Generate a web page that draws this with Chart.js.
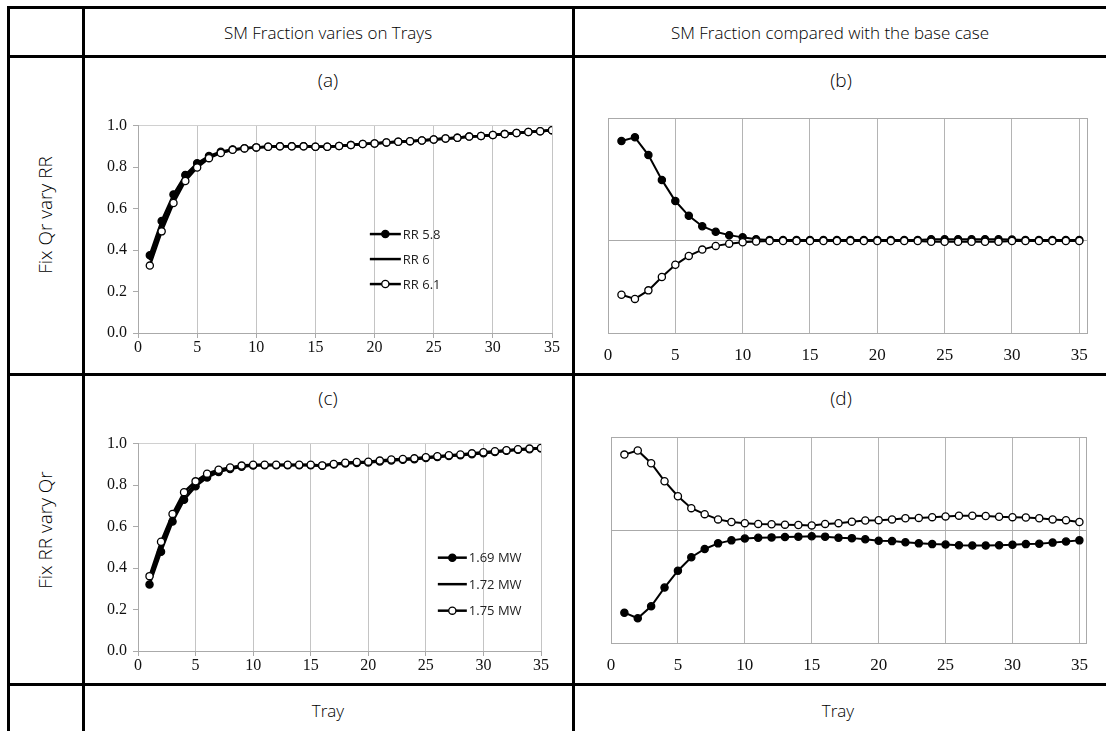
<!DOCTYPE html>
<html lang="en">
<head>
    <meta charset="UTF-8">
    <title>SM Fraction on Trays</title>
    <script src="https://cdn.jsdelivr.net/npm/chart.js"></script>
    <style>
        body {
            margin: 0;
            width: 1106px;
            height: 731px;
            background: #fff;
            position: relative;
            overflow: hidden;
            font-family: "Open Sans", "Noto Sans", sans-serif;
            font-weight: 300;
            color: #000;
        }
        .hline, .vline {
            position: absolute;
            background: #000;
        }
        .hline { height: 3px; left: 7px; right: 0; }
        .vline { width: 3px; top: 6px; bottom: 0; }
        .lbl {
            position: absolute;
            transform: translate(-50%, -50%);
            white-space: nowrap;
            font-size: 17px;
        }
        .rot {
            transform: translate(-50%, -50%) rotate(-90deg);
            font-size: 19px;
        }
        canvas {
            position: absolute;
        }
    </style>
</head>
<body>
    <!-- table rules -->
    <div class="hline" style="top: 6px;"></div>
    <div class="hline" style="top: 55px;"></div>
    <div class="hline" style="top: 373px;"></div>
    <div class="hline" style="top: 683px;"></div>
    <div class="vline" style="left: 7px;"></div>
    <div class="vline" style="left: 82px;"></div>
    <div class="vline" style="left: 572px;"></div>

    <div class="lbl" style="left: 328px; top: 32px;">SM Fraction varies on Trays</div>
    <div class="lbl" style="left: 830px; top: 32px;">SM Fraction compared with the base case</div>
    <div class="lbl" style="left: 328px; top: 80px; font-size: 19px;">(a)</div>
    <div class="lbl" style="left: 841px; top: 80px; font-size: 19px;">(b)</div>
    <div class="lbl" style="left: 328px; top: 398px; font-size: 19px;">(c)</div>
    <div class="lbl" style="left: 841px; top: 398px; font-size: 19px;">(d)</div>
    <div class="lbl" style="left: 328px; top: 710px;">Tray</div>
    <div class="lbl" style="left: 838px; top: 710px;">Tray</div>
    <div class="lbl rot" style="left: 45px; top: 215px;">Fix Qr vary RR</div>
    <div class="lbl rot" style="left: 45px; top: 530px;">Fix RR vary Qr</div>

    <canvas id="chartA" width="480" height="250" style="left: 90px; top: 110px;"></canvas>
    <canvas id="chartB" width="525" height="265" style="left: 575px; top: 105px;"></canvas>
    <canvas id="chartC" width="470" height="250" style="left: 90px; top: 428px;"></canvas>
    <canvas id="chartD" width="525" height="260" style="left: 575px; top: 420px;"></canvas>

    <script>
        const trays = [1, 2, 3, 4, 5, 6, 7, 8, 9, 10, 11, 12, 13, 14, 15, 16, 17, 18, 19, 20,
            21, 22, 23, 24, 25, 26, 27, 28, 29, 30, 31, 32, 33, 34, 35];
        const xTicks = [0, 5, 10, 15, 20, 25, 30, 35];
        const yTicks = [0, 0.2, 0.4, 0.6, 0.8, 1.0];

        // SM fraction per tray, reflux ratio cases
        const rr58 = [0.375, 0.540, 0.668, 0.762, 0.818, 0.853, 0.874, 0.885, 0.891, 0.895, 0.898, 0.900,
            0.900, 0.900, 0.898, 0.898, 0.902, 0.906, 0.911, 0.914, 0.919, 0.922, 0.925, 0.928, 0.933,
            0.938, 0.941, 0.947, 0.950, 0.955, 0.959, 0.964, 0.969, 0.973, 0.978];
        const rr60 = [0.350, 0.515, 0.647, 0.748, 0.808, 0.848, 0.871, 0.884, 0.891, 0.895, 0.898, 0.900,
            0.900, 0.900, 0.898, 0.898, 0.902, 0.906, 0.911, 0.914, 0.919, 0.922, 0.925, 0.928, 0.933,
            0.938, 0.941, 0.947, 0.950, 0.955, 0.959, 0.964, 0.969, 0.973, 0.978];
        const rr61 = [0.325, 0.490, 0.627, 0.733, 0.798, 0.843, 0.868, 0.883, 0.890, 0.895, 0.898, 0.900,
            0.900, 0.900, 0.898, 0.898, 0.902, 0.906, 0.911, 0.914, 0.919, 0.922, 0.925, 0.928, 0.933,
            0.938, 0.941, 0.947, 0.950, 0.955, 0.959, 0.964, 0.969, 0.973, 0.978];

        // difference from the RR 6 base case
        const dRr58 = [0.0268, 0.0278, 0.0230, 0.0163, 0.0106, 0.0066, 0.0038, 0.0023, 0.0014, 0.0008,
            0.0003, 0.0001, 0.0001, 0.0001, 0.0001, 0.0001, 0.0001, 0.0001, 0.0001, 0.0001, 0.0001, 0.0001,
            0.0001, 0.0003, 0.0003, 0.0003, 0.0003, 0.0003, 0.0003, 0.0002, 0.0001, 0.0001, 0.0001, 0.0001, 0.0001];
        const dRr61 = [-0.0147, -0.0158, -0.0135, -0.0099, -0.0066, -0.0042, -0.0025, -0.0015, -0.0009, -0.0005,
            -0.0003, -0.0002, -0.0002, -0.0002, -0.0002, -0.0002, -0.0002, -0.0002, -0.0002, -0.0002, -0.0002, -0.0002,
            -0.0002, -0.0004, -0.0004, -0.0004, -0.0004, -0.0004, -0.0004, -0.0002, -0.0002, -0.0002, -0.0002, -0.0002, -0.0002];

        // SM fraction per tray, reboiler duty cases
        const qr169 = [0.321, 0.479, 0.624, 0.729, 0.794, 0.837, 0.863, 0.878, 0.888, 0.894, 0.896, 0.896,
            0.896, 0.896, 0.896, 0.893, 0.899, 0.904, 0.907, 0.909, 0.914, 0.919, 0.922, 0.925, 0.930,
            0.935, 0.940, 0.944, 0.949, 0.954, 0.959, 0.965, 0.970, 0.973, 0.977];
        const qr172 = [0.342, 0.503, 0.643, 0.748, 0.806, 0.846, 0.869, 0.882, 0.891, 0.896, 0.897, 0.897,
            0.897, 0.897, 0.897, 0.894, 0.900, 0.906, 0.909, 0.911, 0.916, 0.921, 0.924, 0.927, 0.932,
            0.937, 0.942, 0.946, 0.951, 0.956, 0.961, 0.966, 0.971, 0.974, 0.978];
        const qr175 = [0.361, 0.527, 0.661, 0.766, 0.818, 0.855, 0.874, 0.885, 0.894, 0.898, 0.898, 0.898,
            0.898, 0.898, 0.898, 0.895, 0.902, 0.908, 0.911, 0.913, 0.918, 0.923, 0.926, 0.929, 0.934,
            0.939, 0.944, 0.948, 0.953, 0.958, 0.963, 0.968, 0.973, 0.976, 0.979];

        // difference from the 1.72 MW base case
        const dQr169 = [-0.0219, -0.0234, -0.0202, -0.0152, -0.0107, -0.0071, -0.0049, -0.0034, -0.0026, -0.0021,
            -0.0019, -0.0018, -0.0017, -0.0016, -0.0015, -0.0016, -0.0019, -0.0020, -0.0023, -0.0027, -0.0028,
            -0.0031, -0.0034, -0.0036, -0.0037, -0.0039, -0.0040, -0.0040, -0.0039, -0.0038, -0.0036, -0.0035,
            -0.0032, -0.0029, -0.0026];
        const dQr175 = [0.0203, 0.0214, 0.0180, 0.0132, 0.0092, 0.0060, 0.0044, 0.0030, 0.0023, 0.0020,
            0.0018, 0.0017, 0.0016, 0.0015, 0.0014, 0.0018, 0.0020, 0.0024, 0.0027, 0.0028, 0.0030,
            0.0033, 0.0034, 0.0036, 0.0038, 0.0040, 0.0040, 0.0039, 0.0037, 0.0036, 0.0035, 0.0033,
            0.0030, 0.0028, 0.0023];

        const serif = 'Liberation Serif, DejaVu Serif, serif';
        const tickFont = { family: serif, size: 16 };

        function points(values) {
            return trays.map((t, i) => ({ x: t, y: values[i] }));
        }

        // open markers sit on top, the plain line in the middle, filled markers underneath
        function series(label, values, kind, width) {
            return {
                label: label,
                data: points(values),
                order: kind === 'open' ? 0 : (kind === 'line' ? 1 : 2),
                borderColor: '#000',
                borderWidth: width,
                pointRadius: kind === 'line' ? 0 : 3.6,
                pointBorderWidth: 1.3,
                pointBorderColor: '#000',
                pointBackgroundColor: kind === 'open' ? '#fff' : '#000',
                tension: 0
            };
        }

        // box around the plot area
        const framePlugin = {
            id: 'frame',
            beforeDatasetsDraw(chart, args, opts) {
                if (!opts.color) return;
                const a = chart.chartArea;
                const c = chart.ctx;
                c.save();
                c.strokeStyle = opts.color;
                c.lineWidth = 1;
                c.strokeRect(Math.round(a.left) + 0.5, Math.round(a.top) + 0.5,
                    Math.round(a.right - a.left), Math.round(a.bottom - a.top));
                c.restore();
            }
        };

        // legend drawn inside the plot
        const innerLegend = {
            id: 'innerLegend',
            afterDatasetsDraw(chart, args, opts) {
                if (!opts.x) return;
                const a = chart.chartArea;
                const c = chart.ctx;
                const x0 = a.left + (a.right - a.left) * opts.x;
                let y = a.top + (a.bottom - a.top) * opts.y;
                c.save();
                c.font = opts.font;
                c.textBaseline = 'middle';
                chart.data.datasets.forEach(ds => {
                    c.strokeStyle = '#000';
                    c.lineWidth = ds.borderWidth;
                    c.beginPath();
                    c.moveTo(x0, y);
                    c.lineTo(x0 + opts.len, y);
                    c.stroke();
                    if (ds.pointRadius > 0) {
                        c.beginPath();
                        c.arc(x0 + opts.len / 2, y, ds.pointRadius, 0, Math.PI * 2);
                        c.fillStyle = ds.pointBackgroundColor;
                        c.fill();
                        c.lineWidth = ds.pointBorderWidth;
                        c.stroke();
                    }
                    c.fillStyle = '#222';
                    c.fillText(ds.label, x0 + opts.len + 2, y + 1);
                    y += opts.gap;
                });
                c.restore();
            }
        };

        function fractionChart(id, datasets, pad, legend) {
            return new Chart(document.getElementById(id), {
                type: 'line',
                data: { datasets: datasets },
                plugins: [framePlugin, innerLegend],
                options: {
                    responsive: false,
                    animation: false,
                    layout: { padding: pad },
                    plugins: {
                        legend: { display: false },
                        tooltip: { enabled: false },
                        frame: {},
                        innerLegend: legend
                    },
                    scales: {
                        x: {
                            type: 'linear',
                            min: 0,
                            max: 35,
                            afterBuildTicks: s => { s.ticks = xTicks.map(v => ({ value: v })); },
                            afterFit: s => { s.height = 27; },
                            border: { color: '#aaa' },
                            grid: { color: '#c4c4c4', tickLength: 5, tickColor: '#aaa' },
                            ticks: { font: tickFont, color: '#111', padding: 0, maxRotation: 0 }
                        },
                        y: {
                            min: 0,
                            max: 1,
                            afterBuildTicks: s => { s.ticks = yTicks.map(v => ({ value: v })); },
                            afterFit: s => { s.width = 48; },
                            border: { color: '#aaa' },
                            grid: {
                                color: ctx => ctx.tick && ctx.tick.value === 1 ? '#d0d0d0' : 'transparent',
                                tickLength: 5,
                                tickColor: '#aaa'
                            },
                            ticks: { font: tickFont, color: '#111', padding: 6, callback: v => v.toFixed(1) }
                        }
                    }
                }
            });
        }

        function diffChart(id, datasets, pad, yMin, yMax, xMax) {
            return new Chart(document.getElementById(id), {
                type: 'line',
                data: { datasets: datasets },
                plugins: [framePlugin],
                options: {
                    responsive: false,
                    animation: false,
                    layout: { padding: pad },
                    plugins: {
                        legend: { display: false },
                        tooltip: { enabled: false },
                        frame: { color: '#aaa' }
                    },
                    scales: {
                        x: {
                            type: 'linear',
                            min: 0,
                            max: xMax,
                            afterBuildTicks: s => { s.ticks = xTicks.map(v => ({ value: v })); },
                            afterFit: s => { s.height = 37; },
                            border: { display: false },
                            grid: { color: ctx => ctx.tick && ctx.tick.value > 0 ? '#b4b4b4' : 'transparent', drawTicks: false },
                            ticks: { font: { family: serif, size: 17 }, color: '#111', padding: 12, maxRotation: 0 }
                        },
                        y: {
                            min: yMin,
                            max: yMax,
                            afterBuildTicks: s => { s.ticks = [{ value: 0 }]; },
                            afterFit: s => { s.width = 0; },
                            border: { display: false },
                            grid: { color: '#aaa', drawTicks: false },
                            ticks: { display: false }
                        }
                    }
                }
            });
        }

        const legendFont = "13px 'Open Sans', 'Noto Sans', sans-serif";

        fractionChart('chartA', [
            series('RR 5.8', rr58, 'filled', 2.5),
            series('RR 6', rr60, 'line', 2.5),
            series('RR 6.1', rr61, 'open', 2.5)
        ], { left: 0, right: 18, top: 9, bottom: 0 },
            { x: 0.56, y: 0.523, len: 31, gap: 25, font: legendFont });

        diffChart('chartB', [
            series('RR 5.8', dRr58, 'filled', 2),
            series('RR 6.1', dRr61, 'open', 2)
        ], { left: 33, right: 13, top: 13, bottom: 0 }, -0.025, 0.033, 35.56);

        fractionChart('chartC', [
            series('1.69 MW', qr169, 'filled', 2.5),
            series('1.72 MW', qr172, 'line', 2.5),
            series('1.75 MW', qr175, 'open', 2.5)
        ], { left: 0, right: 19, top: 9, bottom: 0 },
            { x: 0.744, y: 0.55, len: 29, gap: 26.5, font: legendFont });

        diffChart('chartD', [
            series('1.69 MW', dQr169, 'filled', 2),
            series('1.75 MW', dQr175, 'open', 2)
        ], { left: 36, right: 8, top: 17, bottom: 0 }, -0.03, 0.025, 35.5);
    </script>
</body>
</html>
